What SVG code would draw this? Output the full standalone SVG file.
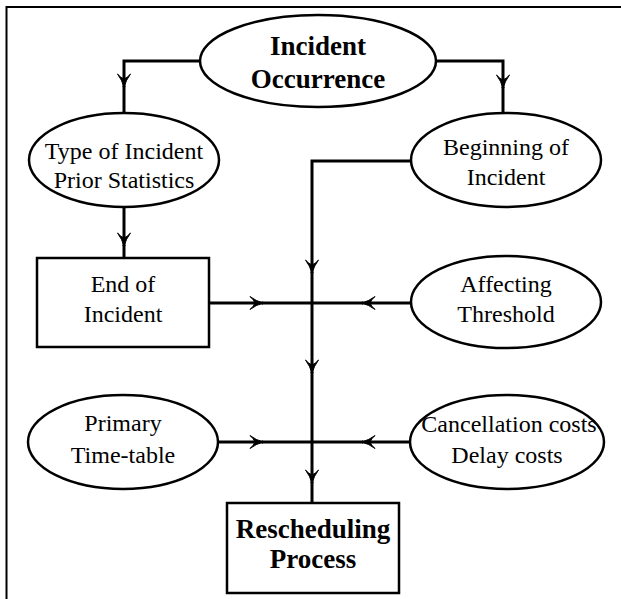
<svg xmlns="http://www.w3.org/2000/svg" width="621" height="599" viewBox="0 0 621 599">
<defs>
<marker id="arr" viewBox="-15 -8 16 16" markerWidth="16" markerHeight="16" refX="0" refY="0" orient="auto" markerUnits="userSpaceOnUse">
<path d="M0,0 Q-7,-2 -13,-6.5 Q-9,-3 -8,0 Q-9,3 -13,6.5 Q-7,2 0,0 Z" fill="#000" stroke="#000" stroke-width="1"/>
</marker>
</defs>
<style>
.shape{fill:#fff;stroke:#000;stroke-width:2.5}
.t{font-family:"Liberation Serif","Times New Roman",serif;font-size:24px;text-anchor:middle;fill:#000}
.b{font-family:"Liberation Serif","Times New Roman",serif;font-size:27px;font-weight:bold;text-anchor:middle;fill:#000}
.c{fill:none;stroke:#000;stroke-width:3}
.ca{fill:none;stroke:#000;stroke-width:3;marker-end:url(#arr)}
</style>
<rect width="621" height="599" fill="#fff"/>
<g id="frame"><path d="M6.5,599 V7 H621" fill="none" stroke="#000" stroke-width="2"/></g>
<g id="connectors">
<path class="ca" d="M200,61 H124 V87"/><path class="c" d="M124,86 V113"/>
<path class="ca" d="M437,61 H503 V88"/><path class="c" d="M503,87 V113"/>
<path class="ca" d="M124,208 V246"/><path class="c" d="M124,245 V258"/>
<path class="ca" d="M411,161 H312 V273"/>
<path class="c" d="M312,272 V300"/><path class="ca" d="M312,300 V373"/>
<path class="c" d="M312,372 V440"/><path class="ca" d="M312,440 V483"/><path class="c" d="M312,482 V503"/>
<path class="ca" d="M209,303 H263"/><path class="c" d="M262,303 H312"/>
<path class="ca" d="M411,303 H362"/><path class="c" d="M363,303 H312"/>
<path class="ca" d="M218,442 H263"/><path class="c" d="M262,442 H312"/>
<path class="ca" d="M410,442 H362"/><path class="c" d="M363,442 H312"/>
</g>
<g id="incident-occurrence">
<ellipse class="shape" cx="318" cy="61" rx="118" ry="46"/>
<text class="b" x="318" y="55">Incident</text>
<text class="b" x="318" y="88">Occurrence</text>
</g>
<g id="type-of-incident">
<ellipse class="shape" cx="124" cy="160" rx="95" ry="47"/>
<text class="t" x="124" y="159">Type of Incident</text>
<text class="t" x="124" y="188">Prior Statistics</text>
</g>
<g id="beginning-of-incident">
<ellipse class="shape" cx="506" cy="160" rx="95" ry="47"/>
<text class="t" x="506" y="155">Beginning of</text>
<text class="t" x="506" y="185">Incident</text>
</g>
<g id="end-of-incident">
<rect class="shape" x="37" y="258" width="172" height="89"/>
<text class="t" x="123" y="292">End of</text>
<text class="t" x="123" y="322">Incident</text>
</g>
<g id="affecting-threshold">
<ellipse class="shape" cx="506" cy="302" rx="95" ry="46"/>
<text class="t" x="506" y="292">Affecting</text>
<text class="t" x="506" y="322">Threshold</text>
</g>
<g id="primary-time-table">
<ellipse class="shape" cx="123" cy="442" rx="95" ry="47"/>
<text class="t" x="123" y="431">Primary</text>
<text class="t" x="123" y="463">Time-table</text>
</g>
<g id="costs">
<ellipse class="shape" cx="507" cy="442" rx="97" ry="47"/>
<text class="t" x="509" y="432">Cancellation costs</text>
<text class="t" x="507" y="463">Delay costs</text>
</g>
<g id="rescheduling-process">
<rect class="shape" x="227" y="503" width="172" height="90"/>
<text class="b" x="313" y="538">Rescheduling</text>
<text class="b" x="313" y="568">Process</text>
</g>
</svg>
